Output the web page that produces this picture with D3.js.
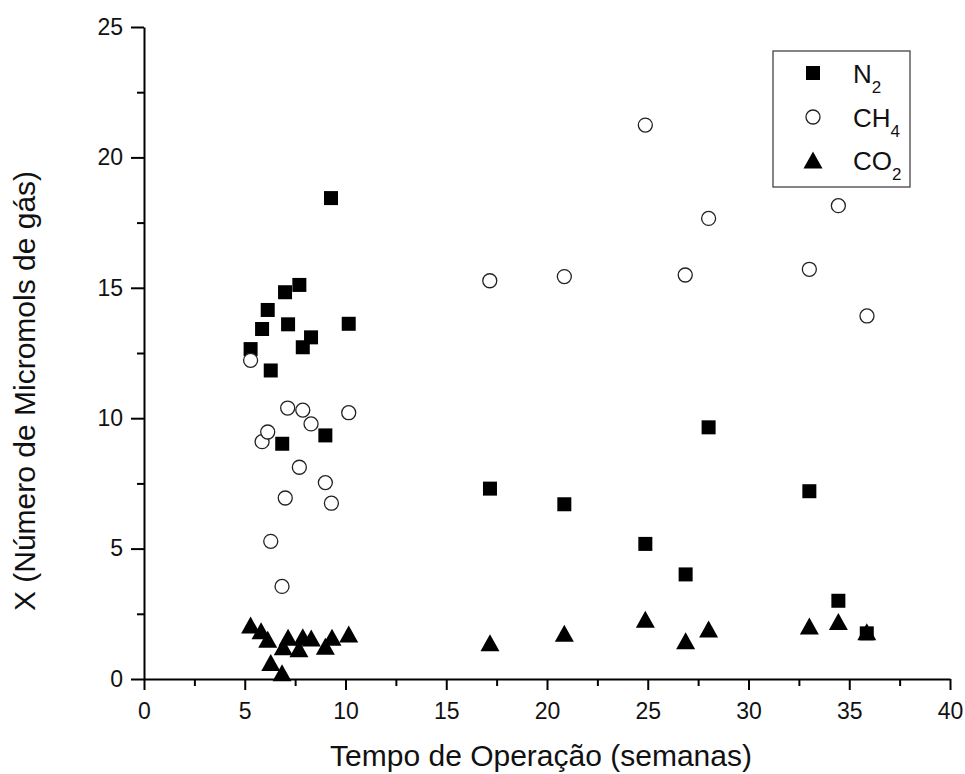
<!DOCTYPE html>
<html>
<head>
<meta charset="utf-8">
<script src="https://cdn.jsdelivr.net/npm/d3@7"></script>
<style>
  body { margin: 0; background: #fff; }
  svg { font-family: "Liberation Sans", Arial, sans-serif; }
</style>
</head>
<body>
<svg id="chart" width="965" height="774"></svg>
<script>
// values
const n2X = [5.29, 5.86, 6.14, 6.29, 6.86, 7.0, 7.15, 7.71, 7.88, 8.29, 9.0, 9.28, 10.16, 17.17, 20.86, 24.88, 26.88, 28.02, 33.02, 34.46, 35.87];
const n2Y = [12.65, 13.42, 14.15, 11.83, 9.02, 14.83, 13.6, 15.11, 12.72, 13.1, 9.34, 18.44, 13.62, 7.30, 6.70, 5.18, 4.01, 9.65, 7.20, 3.0, 1.75];

const ch4X = [5.29, 5.86, 6.14, 6.29, 6.85, 7.01, 7.13, 7.71, 7.88, 8.29, 9.0, 9.3, 10.16, 17.16, 20.86, 24.88, 26.86, 28.02, 33.02, 34.46, 35.88];
const ch4Y = [12.22, 9.1, 9.47, 5.28, 3.55, 6.94, 10.39, 8.12, 10.31, 9.78, 7.53, 6.74, 10.21, 15.27, 15.43, 21.24, 15.49, 17.66, 15.71, 18.15, 13.92];

const co2X = [5.29, 5.81, 6.14, 6.29, 6.85, 6.91, 7.15, 7.69, 7.88, 8.3, 9.0, 9.33, 10.16, 17.17, 20.86, 24.88, 26.88, 28.02, 33.02, 34.46, 35.87];
const co2Y = [2.07, 1.85, 1.52, 0.63, 0.24, 1.24, 1.6, 1.16, 1.62, 1.57, 1.26, 1.6, 1.73, 1.39, 1.75, 2.29, 1.47, 1.92, 2.03, 2.2, 1.81];

const xTicks = [0, 5, 10, 15, 20, 25, 30, 35, 40];
const xMinor = [2.5, 7.5, 12.5, 17.5, 22.5, 27.5, 32.5, 37.5];
const yTicks = [0, 5, 10, 15, 20, 25];
const yMinor = [2.5, 7.5, 12.5, 17.5, 22.5];

const seriesNames = ["N", "CH", "CO"];
const seriesSubs = ["2", "4", "2"];

const svg = d3.select("#chart");

const x = d3.scaleLinear().domain([0, 40]).range([144, 950]);
const y = d3.scaleLinear().domain([0, 25]).range([679, 27]);

// axes
function styleAxis(g) {
  g.select(".domain").attr("stroke", "#000").attr("stroke-width", 2);
  g.selectAll(".tick line").attr("stroke", "#000").attr("stroke-width", 2);
  g.selectAll(".tick text").attr("fill", "#111").style("font-size", "23px");
}

svg.append("g")
  .attr("transform", "translate(0,679)")
  .call(d3.axisBottom(x).tickValues(xMinor).tickSizeInner(7).tickSizeOuter(0).tickFormat(""))
  .call(g => g.select(".domain").remove())
  .call(styleAxis);

svg.append("g")
  .attr("transform", "translate(144,0)")
  .call(d3.axisLeft(y).tickValues(yMinor).tickSizeInner(7).tickSizeOuter(0).tickFormat(""))
  .call(g => g.select(".domain").remove())
  .call(styleAxis);

svg.append("g")
  .attr("transform", "translate(0,679)")
  .call(d3.axisBottom(x).tickValues(xTicks).tickSizeInner(11).tickSizeOuter(0).tickPadding(12))
  .call(styleAxis)
  .call(g => g.selectAll(".tick text").attr("dy", "0.75em"));

svg.append("g")
  .attr("transform", "translate(144,0)")
  .call(d3.axisLeft(y).tickValues(yTicks).tickSizeInner(13).tickSizeOuter(0).tickPadding(8))
  .call(styleAxis);

// axis titles
svg.append("text")
  .attr("x", 541).attr("y", 766)
  .attr("text-anchor", "middle")
  .style("font-size", "30px").attr("fill", "#111")
  .text("Tempo de Operação (semanas)");

svg.append("text")
  .attr("transform", "translate(35,391) rotate(-90)")
  .attr("text-anchor", "middle")
  .style("font-size", "30px").attr("fill", "#111")
  .text("X (Número de Micromols de gás)");

// markers
const sq = 14, circR = 7, triW = 19, triH = 17;
const triPath = `M0,${-triH / 2}L${triW / 2},${triH / 2}L${-triW / 2},${triH / 2}Z`;

svg.append("g").selectAll("rect")
  .data(d3.zip(n2X, n2Y))
  .join("rect")
  .attr("x", d => x(d[0]) - sq / 2)
  .attr("y", d => y(d[1]) - sq / 2)
  .attr("width", sq).attr("height", sq)
  .attr("fill", "#000");

svg.append("g").selectAll("circle")
  .data(d3.zip(ch4X, ch4Y))
  .join("circle")
  .attr("cx", d => x(d[0]))
  .attr("cy", d => y(d[1]))
  .attr("r", circR)
  .attr("fill", "#fff")
  .attr("stroke", "#222")
  .attr("stroke-width", 1.3);

svg.append("g").selectAll("path")
  .data(d3.zip(co2X, co2Y))
  .join("path")
  .attr("d", triPath)
  .attr("transform", d => `translate(${x(d[0])},${y(d[1])})`)
  .attr("fill", "#000");

// legend
const legend = svg.append("g");
legend.append("rect")
  .attr("x", 773).attr("y", 51)
  .attr("width", 137).attr("height", 136)
  .attr("fill", "#fff")
  .attr("stroke", "#444").attr("stroke-width", 1.3);

const rowY = [73, 117, 160];
legend.append("rect")
  .attr("x", 813 - sq / 2).attr("y", rowY[0] - sq / 2)
  .attr("width", sq).attr("height", sq).attr("fill", "#000");
legend.append("circle")
  .attr("cx", 813).attr("cy", rowY[1]).attr("r", circR)
  .attr("fill", "#fff").attr("stroke", "#222").attr("stroke-width", 1.3);
legend.append("path")
  .attr("d", triPath)
  .attr("transform", `translate(813,${rowY[2]})`)
  .attr("fill", "#000");

seriesNames.forEach((name, i) => {
  const t = legend.append("text")
    .attr("x", 853).attr("y", rowY[i] + 9.5)
    .attr("fill", "#111")
    .style("font-size", "26px");
  t.append("tspan").text(name);
  t.append("tspan").attr("dy", 10).style("font-size", "17px").text(seriesSubs[i]);
});
</script>
</body>
</html>
